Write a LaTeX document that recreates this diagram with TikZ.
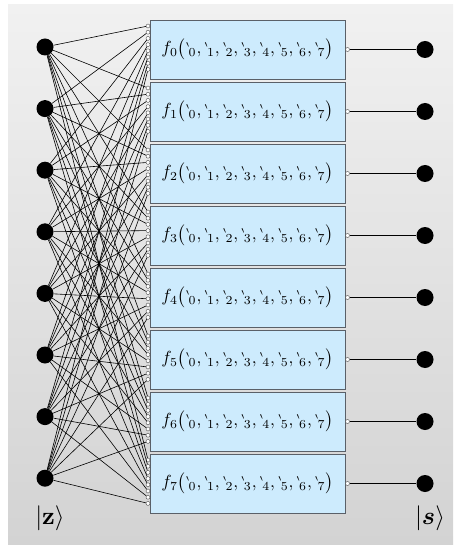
\documentclass[tikz,border=0pt]{standalone}
\usepackage{graphicx}
\usepackage{amsmath}
\usepackage{amssymb}
\usepackage{bm}
\usetikzlibrary{calc}

\definecolor{bgtop}{HTML}{F1F1F1}
\definecolor{bgbot}{HTML}{D3D3D3}
\definecolor{boxfill}{HTML}{CDEBFD}
\definecolor{boxline}{HTML}{5A6068}

% one argument slot of f_j
\newcommand{\fslot}[1]{\mathord{{}^{\scriptscriptstyle\backprime}}\mkern-2mu{}_{#1}}
\newcommand{\fcall}[1]{\scalebox{1.75}{$f_{#1}\bigl(\fslot{0},\fslot{1},\fslot{2},\fslot{3},\fslot{4},\fslot{5},\fslot{6},\fslot{7}\bigr)$}}

\begin{document}
\begin{tikzpicture}[x=1pt,y=-1pt]
	\tikzset{
		dot/.style={circle, fill=black, minimum size=17pt, inner sep=0pt},
		fbox/.style={draw=boxline, fill=boxfill, minimum width=195pt, minimum height=59pt, inner sep=0pt},
		port/.style={circle, draw=black!70, fill=white, line width=0.4pt, minimum size=4pt, inner sep=0pt},
		wire/.style={line width=0.6pt}
	}
	\useasboundingbox (0,0) rectangle (453,545);
	\shade[top color=bgtop, bottom color=bgbot] (8,5) rectangle (453,545);

	% inputs
	\foreach \i in {0,...,7}
		\node[dot] (z\i) at (45, 47+61.6*\i) {};

	% function boxes and their input ports
	\foreach \j in {0,...,7} {
		\node[fbox] (f\j) at (247.5, 49.5+62*\j) {\fcall{\j}};
		\foreach \i in {0,...,7}
			\node[port] (p\j\i) at (148, 26+62*\j+6.2*\i) {};
	}

	% every input goes to every box
	\foreach \i in {0,...,7}
		\foreach \j in {0,...,7}
			\draw[wire] (z\i) -- (p\j\i);

	% outputs
	\foreach \j in {0,...,7} {
		\node[port] (q\j) at (347.5, 49.5+62*\j) {};
		\node[dot] (s\j) at (425, 49.5+62*\j) {};
		\draw[wire] (q\j) -- (s\j);
	}

	\node (zlabel) at (50, 518) {\scalebox{2.5}{$|\mathbf{z}\rangle$}};
	\node (slabel) at (430, 518) {\scalebox{2.5}{$|\bm{s}\rangle$}};
\end{tikzpicture}
\end{document}
